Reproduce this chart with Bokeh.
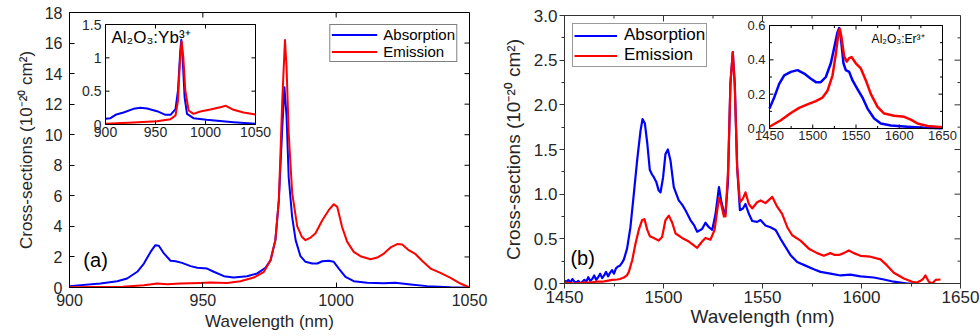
from bokeh.plotting import figure
from bokeh.models import Range1d, NumeralTickFormatter, Label, FixedTicker
from bokeh.layouts import row, column
from bokeh.embed import file_html
from bokeh.resources import INLINE
from bokeh.core.properties import value
import math

FONT = "Liberation Sans"

# ---------------- data: panel (a) Al2O3:Yb3+ ----------------
a_abs_x = [900, 911.6, 917.9, 921.6, 925.4, 927.9, 930.4, 932.2, 933.5, 935.4, 937.9, 939.8, 942.2,
           945.4, 947.9, 951.6, 954.1, 957.9, 961.6, 966.6, 970.4, 973.5, 975.4, 977.2, 978.5, 979.8,
           980.6, 981.4, 982.2, 983.5, 984.8, 986.6, 988.5, 991, 992.9, 994.8, 997.2, 999.1, 1001,
           1003.5, 1006.6, 1011.6, 1017.9, 1022.2, 1027.9, 1034.1, 1042.9, 1050]
a_abs_y = [0.09, 0.26, 0.41, 0.59, 1.03, 1.57, 2.33, 2.77, 2.73, 2.23, 1.75, 1.72, 1.61,
           1.40, 1.29, 1.24, 1.03, 0.74, 0.65, 0.74, 0.92, 1.29, 1.79, 3.1, 5.7, 10.5,
           13.1, 11.2, 7.2, 4.6, 3.1, 2.05, 1.68, 1.57, 1.57, 1.72, 1.75, 1.68, 1.24,
           0.70, 0.41, 0.31, 0.28, 0.31, 0.2, 0.09, 0.02, 0.0]
a_emi_x = [900, 920, 927.9, 932.9, 936.6, 941.6, 949.1, 952.9, 959.1, 964.1, 969.1, 972.9, 975.4,
           977.2, 978.5, 979.8, 980.8, 981.4, 982.2, 983.5, 985.4, 987.2, 988.5, 990.4, 992.2,
           994.8, 997.2, 999.1, 1000.4, 1002.2, 1004.1, 1006.6, 1009.1, 1012.9, 1015.4, 1017.9,
           1020.4, 1022.9, 1024.8, 1027.2, 1029.8, 1032.2, 1035.4, 1039.1, 1042.9, 1046.6, 1050]
a_emi_y = [0.02, 0.05, 0.15, 0.26, 0.22, 0.26, 0.30, 0.33, 0.30, 0.41, 0.65, 1.03, 1.79,
           3.1, 5.7, 12.3, 16.2, 14.4, 10.1, 6.2, 4.0, 3.3, 3.1, 3.27, 3.53,
           4.4, 5.06, 5.45, 5.28, 3.97, 3.0, 2.33, 2.05, 1.85, 1.96, 2.22,
           2.62, 2.84, 2.81, 2.44, 2.18, 1.75, 1.24, 0.96, 0.63, 0.26, 0.0]

# inset (a)
ai_abs_x = [900, 905, 910, 918, 928, 935, 941.6, 951.5, 960, 965, 970, 972.5, 974.8, 975.8, 977.1,
            979.1, 981.5, 988, 1001, 1028, 1050]
ai_abs_y = [0.085, 0.095, 0.145, 0.18, 0.235, 0.25, 0.24, 0.20, 0.145, 0.145, 0.23, 0.51, 1.11, 1.27,
            1.01, 0.41, 0.16, 0.095, 0.07, 0.035, 0.01]
ai_emi_x = [900, 928, 951.5, 965, 970, 972.5, 974.1, 976.1, 977.8, 979.8, 983.1, 988, 994.8,
            1004.8, 1014.7, 1020.4, 1028, 1038, 1050]
ai_emi_y = [0.01, 0.03, 0.05, 0.08, 0.135, 0.36, 0.86, 1.25, 1.01, 0.51, 0.21, 0.16, 0.195,
            0.225, 0.26, 0.28, 0.22, 0.18, 0.15]

a_xticks = [900, 950, 1000, 1050]
a_yticks = [0, 2, 4, 6, 8, 10, 12, 14, 16, 18]
ai_xticks = [900, 950, 1000, 1050]
ai_yticks = [0, 0.5, 1, 1.5]
ai_ylabels = ["0", "0.5", "1", "1.5"]

# ---------------- data: panel (b) Al2O3:Er3+ ----------------
b_abs_x = [1450, 1451, 1452, 1453, 1454, 1455, 1456, 1457, 1458, 1459, 1460, 1461, 1462, 1463, 1464,
           1465, 1466, 1467, 1468, 1469, 1470, 1471, 1472, 1473, 1474, 1475, 1476, 1477, 1478, 1479,
           1480, 1481.6, 1483.3, 1485, 1486.7, 1488.4, 1489.4, 1490.6, 1491.8, 1493.1, 1494.2, 1495.1,
           1496.3, 1497.6, 1498.5, 1499.8, 1501, 1502.2, 1503.5, 1505.2, 1507.7, 1509.5, 1511.1,
           1513.6, 1515.5, 1517, 1519.5, 1521.2, 1522.9, 1524.6, 1526.3, 1528, 1529.1, 1530.5,
           1531.3, 1532.5, 1533.8, 1535, 1536, 1537.2, 1538.6, 1540.1, 1541.4, 1543.1, 1544.8,
           1547.3, 1549, 1551.5, 1554, 1556.6, 1559.1, 1561.6, 1564.1, 1567.5, 1571.7, 1575.9,
           1579.3, 1584.3, 1589.4, 1594.4, 1599.5, 1606.2, 1611.3, 1616.3, 1623.1, 1626]
b_abs_y = [0.03, 0.02, 0.04, 0.01, 0.05, 0.02, 0.01, 0.03, 0.0, 0.02, 0.04, 0.02, 0.07, 0.03, 0.05,
           0.09, 0.04, 0.07, 0.11, 0.06, 0.09, 0.13, 0.08, 0.12, 0.15, 0.11, 0.17, 0.19, 0.20, 0.23,
           0.27, 0.39, 0.63, 1.0, 1.38, 1.71, 1.84, 1.79, 1.57, 1.27, 1.22, 1.19,
           1.14, 1.04, 1.02, 1.19, 1.45, 1.50, 1.38, 1.08, 0.93, 0.88, 0.82,
           0.71, 0.65, 0.58, 0.61, 0.68, 0.63, 0.60, 0.78, 1.08, 0.93, 0.80,
           0.78, 1.12, 2.24, 2.59, 2.24, 1.30, 0.82, 0.84, 0.89, 0.78, 0.70,
           0.69, 0.71, 0.65, 0.63, 0.60, 0.50, 0.41, 0.32, 0.24, 0.20, 0.16,
           0.13, 0.11, 0.09, 0.10, 0.08, 0.067, 0.045, 0.02, 0.0, 0.0]
b_emi_x = [1450, 1455, 1460, 1463, 1466, 1469, 1471.5, 1474, 1476.6, 1478, 1480, 1481.5, 1482.5,
           1484.2, 1485.9, 1487.5, 1489.2, 1490.4, 1491.8, 1493.1, 1495.1, 1497.6, 1499.3, 1501,
           1502.7, 1504.4, 1506.1, 1509.4, 1512.8, 1517, 1519.5, 1521.2, 1523.7, 1525.8, 1528,
           1529.1, 1530.5, 1531.3, 1532.7, 1533.8, 1535, 1536, 1537.2, 1538.6, 1540.1, 1541.4,
           1543.1, 1544.8, 1547.3, 1549, 1551.5, 1554.9, 1557.4, 1559.9, 1562.5, 1565, 1569.2,
           1573.4, 1577.6, 1581, 1584.3, 1586.5, 1588.6, 1591, 1593.6, 1596.1, 1599.5, 1604.5,
           1609.6, 1613, 1616.3, 1621.4, 1625.6, 1628, 1629.8, 1631, 1632.3, 1634, 1635.7, 1637.4,
           1639.9]
b_emi_y = [0.01, 0.0, 0.01, 0.01, 0.02, 0.02, 0.03, 0.04, 0.045, 0.05, 0.067, 0.09, 0.13,
           0.26, 0.45, 0.60, 0.71, 0.72, 0.60, 0.53, 0.51, 0.48, 0.52, 0.71,
           0.76, 0.68, 0.56, 0.51, 0.47, 0.40, 0.47, 0.51, 0.49, 0.60, 0.96,
           0.89, 0.75, 0.75, 1.30, 2.24, 2.59, 2.20, 1.30, 0.91, 0.95, 1.02,
           0.89, 0.84, 0.91, 0.93, 0.90, 0.97, 0.86, 0.78, 0.63, 0.54, 0.48,
           0.39, 0.34, 0.31, 0.34, 0.32, 0.32, 0.34, 0.37, 0.34, 0.31, 0.30,
           0.27, 0.20, 0.12, 0.056, 0.02, 0.01, 0.03, 0.05, 0.09, 0.02, 0.0, 0.04,
           0.045]

# inset (b)
bi_abs_x = [1450, 1455.4, 1461.2, 1467, 1474.7, 1482.4, 1490.1, 1497.8, 1503.6, 1509.3, 1515.1,
            1520.9, 1524.8, 1528.6, 1530.5, 1532.5, 1535.5, 1538.2, 1542.1, 1546, 1551.7, 1557.5,
            1563.3, 1571, 1578.7, 1590.3, 1609.5, 1628.8, 1650]
bi_abs_y = [0.116, 0.18, 0.26, 0.31, 0.33, 0.34, 0.32, 0.29, 0.27, 0.27, 0.30,
            0.38, 0.47, 0.56, 0.585, 0.53, 0.38, 0.34, 0.33, 0.28, 0.23, 0.18,
            0.116, 0.058, 0.029, 0.017, 0.01, 0.004, 0.002]
bi_emi_x = [1450, 1463.1, 1474.7, 1484.3, 1493.9, 1503.6, 1511.3, 1517.1, 1522.9, 1526.7, 1529.8,
            1531.3, 1533.2, 1536.3, 1539.4, 1542.1, 1544.8, 1549.8, 1555.6, 1561.4, 1567.2, 1574.9,
            1582.6, 1594.1, 1605.7, 1613.4, 1621.1, 1632.7, 1650]
bi_emi_y = [0.01, 0.048, 0.09, 0.12, 0.14, 0.16, 0.18, 0.22, 0.31, 0.435, 0.56,
            0.58, 0.53, 0.42, 0.39, 0.41, 0.416, 0.38, 0.35, 0.28, 0.20, 0.126,
            0.087, 0.074, 0.068, 0.052, 0.029, 0.015, 0.008]

b_xticks = [1450, 1500, 1550, 1600, 1650]
b_xminor = [1475, 1525, 1575, 1625]
b_yticks = [0.0, 0.5, 1.0, 1.5, 2.0, 2.5, 3.0]
b_yminor = [0.25, 0.75, 1.25, 1.75, 2.25, 2.75]
bi_xticks = [1450, 1500, 1550, 1600, 1650]
bi_xminor = [1475, 1525, 1575, 1625]
bi_yticks = [0.0, 0.2, 0.4, 0.6]
bi_yminor = [0.1, 0.3, 0.5]
bi_ylabels = ["0.0", "0.2", "0.4", "0.6"]

BLUE = "#0000ff"
RED = "#ff0000"
XLABEL = "Wavelength (nm)"
YLABEL = "Cross-sections (10\u207b\u00b2\u2070 cm\u00b2)"


def inset_ranges(frame, box, xlim, ylim):
    fL, fT, fR, fB = frame
    iL, iT, iR, iB = box
    sx = (xlim[1] - xlim[0]) / (iR - iL)
    sy = (ylim[1] - ylim[0]) / (iB - iT)
    xr = Range1d(xlim[0] - (iL - fL) * sx, xlim[0] + (fR - iL) * sx)
    yr = Range1d(ylim[0] - (fB - iB) * sy, ylim[0] + (iB - fT) * sy)
    return xr, yr


def rays(p, xs, ys, ln, ang, color, kw=None):
    kw = kw or {}
    if len(xs):
        p.ray(x=list(xs), y=list(ys), length=ln, length_units="screen", angle=ang,
              line_color=color, line_width=1, **kw)


def mirror_ticks(p, xt, yt, xlim, ylim, ln, color, xminor=(), yminor=(), mln=3):
    rays(p, xt, [ylim[1]] * len(xt), ln, -math.pi / 2, color)
    rays(p, [xlim[1]] * len(yt), yt, ln, math.pi, color)
    rays(p, xminor, [ylim[1]] * len(xminor), mln, -math.pi / 2, color)
    rays(p, [xlim[1]] * len(yminor), yminor, mln, math.pi, color)


def inset_background(p, kw, xt, yt):
    p.quad(left=[xt[0]], right=[xt[-1]], bottom=[yt[0]], top=[yt[-1]], fill_color="white",
           line_color=None, **kw)


def inset_axes(p, kw, xt, yt, ylabels, xminor, yminor, fs, tick=4, mtick=2.5, color="black"):
    x0, x1 = xt[0], xt[-1]
    y0, y1 = yt[0], yt[-1]
    p.quad(left=[x0], right=[x1], bottom=[y0], top=[y1], fill_color=None,
           line_color=color, line_width=1, **kw)
    for ticks, ln in ((xt, tick), (xminor, mtick)):
        rays(p, ticks, [y0] * len(ticks), ln, math.pi / 2, color, kw)
        rays(p, ticks, [y1] * len(ticks), ln, -math.pi / 2, color, kw)
    for ticks, ln in ((yt, tick), (yminor, mtick)):
        rays(p, [x0] * len(ticks), ticks, ln, 0, color, kw)
        rays(p, [x1] * len(ticks), ticks, ln, math.pi, color, kw)
    p.text(x=xt, y=[y0] * len(xt), text=[str(v) for v in xt], text_align="center",
           text_baseline="top", y_offset=2, text_font=value(FONT), text_font_size=fs,
           text_color="#262626", **kw)
    p.text(x=[x0] * len(yt), y=yt, text=ylabels, text_align="right",
           text_baseline="middle", x_offset=-4, text_font=value(FONT), text_font_size=fs,
           text_color="#262626", **kw)


def style_axis(ax, color, fs, lfs):
    ax.axis_line_color = color
    ax.major_tick_line_color = color
    ax.minor_tick_line_color = color
    ax.major_label_text_font = FONT
    ax.major_label_text_font_size = fs
    ax.major_label_text_color = "#262626"
    ax.axis_label_text_font = FONT
    ax.axis_label_text_font_size = lfs
    ax.axis_label_text_font_style = "normal"
    ax.axis_label_text_color = "#262626"


# ================= panel (a) =================
A_FRAME = (69, 12, 469, 287)
pa = figure(width=490, height=336, x_range=(900, 1050), y_range=(0, 18),
            output_backend="svg", toolbar_location=None,
            min_border_left=69, min_border_right=21, min_border_top=12, min_border_bottom=49)
pa.grid.visible = False
pa.outline_line_color = "black"
pa.xaxis.ticker = FixedTicker(ticks=a_xticks)
pa.yaxis.ticker = FixedTicker(ticks=a_yticks)
pa.xaxis.axis_label = XLABEL
pa.yaxis.axis_label = YLABEL
style_axis(pa.xaxis[0], "black", "16px", "17px")
style_axis(pa.yaxis[0], "black", "16px", "17px")
for ax in pa.axis:
    ax.major_tick_in = 5
    ax.major_tick_out = 0
    ax.minor_tick_line_color = None
pa.xaxis[0].major_label_standoff = 6
pa.xaxis[0].axis_label_standoff = 3
pa.yaxis[0].major_label_standoff = 7
pa.yaxis[0].axis_label_standoff = 6
mirror_ticks(pa, a_xticks, a_yticks, (900, 1050), (0, 18), 5, "black")

pa.line(a_abs_x, a_abs_y, line_color=BLUE, line_width=2, legend_label="Absorption", line_join="round")
pa.line(a_emi_x, a_emi_y, line_color=RED, line_width=2, legend_label="Emission", line_join="round")

xr, yr = inset_ranges(A_FRAME, (105, 24, 255, 124),
                      (ai_xticks[0], ai_xticks[-1]), (ai_yticks[0], ai_yticks[-1]))
pa.extra_x_ranges = {"ia": xr}
pa.extra_y_ranges = {"ia": yr}
kwa = dict(x_range_name="ia", y_range_name="ia")
inset_background(pa, kwa, ai_xticks, ai_yticks)
pa.line(ai_abs_x, ai_abs_y, line_color=BLUE, line_width=2, line_join="round", **kwa)
pa.line(ai_emi_x, ai_emi_y, line_color=RED, line_width=2, line_join="round", **kwa)
inset_axes(pa, kwa, ai_xticks, ai_yticks, ai_ylabels, [], [], "14px")
pa.add_layout(Label(x=ai_xticks[0], y=ai_yticks[-1], x_offset=6, y_offset=-3,
                    text="Al\u2082O\u2083:Yb\u00b3\u207a", text_baseline="top",
                    text_font=FONT, text_font_size="17px", text_color="black",
                    x_range_name="ia", y_range_name="ia"))
pa.add_layout(Label(x=905.2, y=1.8, text="(a)", text_baseline="middle",
                    text_font=FONT, text_font_size="20px", text_color="black"))

lg = pa.legend[0]
lg.location = "top_right"
lg.margin = 12
lg.padding = 1
lg.spacing = 0
lg.glyph_width = 46
lg.glyph_height = 15
lg.label_height = 15
lg.label_standoff = 6
lg.label_text_font = FONT
lg.label_text_font_size = "15px"
lg.label_text_color = "black"
lg.border_line_color = "black"
lg.border_line_width = 1
lg.background_fill_alpha = 1

# ================= panel (b) =================
AX = "#333333"
B_FRAME = (564, 15, 960, 283)
pb = figure(width=490, height=336, x_range=(1450, 1650), y_range=(0, 3.0),
            output_backend="svg", toolbar_location=None,
            min_border_left=74, min_border_right=20, min_border_top=15, min_border_bottom=53)
pb.grid.visible = False
pb.outline_line_color = AX
pb.xaxis.ticker = FixedTicker(ticks=b_xticks, minor_ticks=b_xminor)
pb.yaxis.ticker = FixedTicker(ticks=b_yticks, minor_ticks=b_yminor)
pb.yaxis.formatter = NumeralTickFormatter(format="0.0")
pb.xaxis.axis_label = XLABEL
pb.yaxis.axis_label = YLABEL
style_axis(pb.xaxis[0], AX, "17px", "19px")
style_axis(pb.yaxis[0], AX, "17px", "19px")
for ax in (pb.xaxis[0], pb.yaxis[0]):
    ax.major_tick_out = 5
    ax.major_tick_in = 0
    ax.minor_tick_out = 3
    ax.minor_tick_in = 0
pb.xaxis[0].major_label_standoff = 2
pb.xaxis[0].axis_label_standoff = 0
pb.yaxis[0].major_label_standoff = 2
pb.yaxis[0].axis_label_standoff = 7
mirror_ticks(pb, b_xticks, b_yticks, (1450, 1650), (0, 3.0), 6, AX,
             xminor=b_xminor, yminor=b_yminor, mln=3)

pb.line(b_abs_x, b_abs_y, line_color=BLUE, line_width=2.2, legend_label="Absorption", line_join="round")
pb.line(b_emi_x, b_emi_y, line_color=RED, line_width=2.2, legend_label="Emission", line_join="round")

xr2, yr2 = inset_ranges(B_FRAME, (769, 25, 942, 128),
                        (bi_xticks[0], bi_xticks[-1]), (bi_yticks[0], bi_yticks[-1]))
pb.extra_x_ranges = {"ib": xr2}
pb.extra_y_ranges = {"ib": yr2}
kwb = dict(x_range_name="ib", y_range_name="ib")
inset_background(pb, kwb, bi_xticks, bi_yticks)
pb.line(bi_abs_x, bi_abs_y, line_color=BLUE, line_width=2.5, line_join="round", **kwb)
pb.line(bi_emi_x, bi_emi_y, line_color=RED, line_width=2.5, line_join="round", **kwb)
inset_axes(pb, kwb, bi_xticks, bi_yticks, bi_ylabels, bi_xminor, bi_yminor, "13px")
pb.add_layout(Label(x=bi_xticks[-1], y=bi_yticks[-1], x_offset=-18, y_offset=-6,
                    text="Al\u2082O\u2083:Er\u00b3\u207a", text_baseline="top", text_align="right",
                    text_font=FONT, text_font_size="12px", text_color="black",
                    x_range_name="ib", y_range_name="ib"))
pb.add_layout(Label(x=1453, y=0.28, text="(b)", text_baseline="middle",
                    text_font=FONT, text_font_size="20px", text_color="black"))

lg = pb.legend[0]
lg.location = "top_left"
lg.margin = 8
lg.padding = 1
lg.spacing = 0
lg.glyph_width = 43
lg.glyph_height = 17
lg.label_height = 17
lg.label_standoff = 7
lg.label_text_font = FONT
lg.label_text_font_size = "17px"
lg.label_text_color = "black"
lg.border_line_color = AX
lg.border_line_width = 1.3
lg.background_fill_alpha = 1

layout = row(column(pa), column(pb))
open("out.html", "w").write(file_html(layout, INLINE))
